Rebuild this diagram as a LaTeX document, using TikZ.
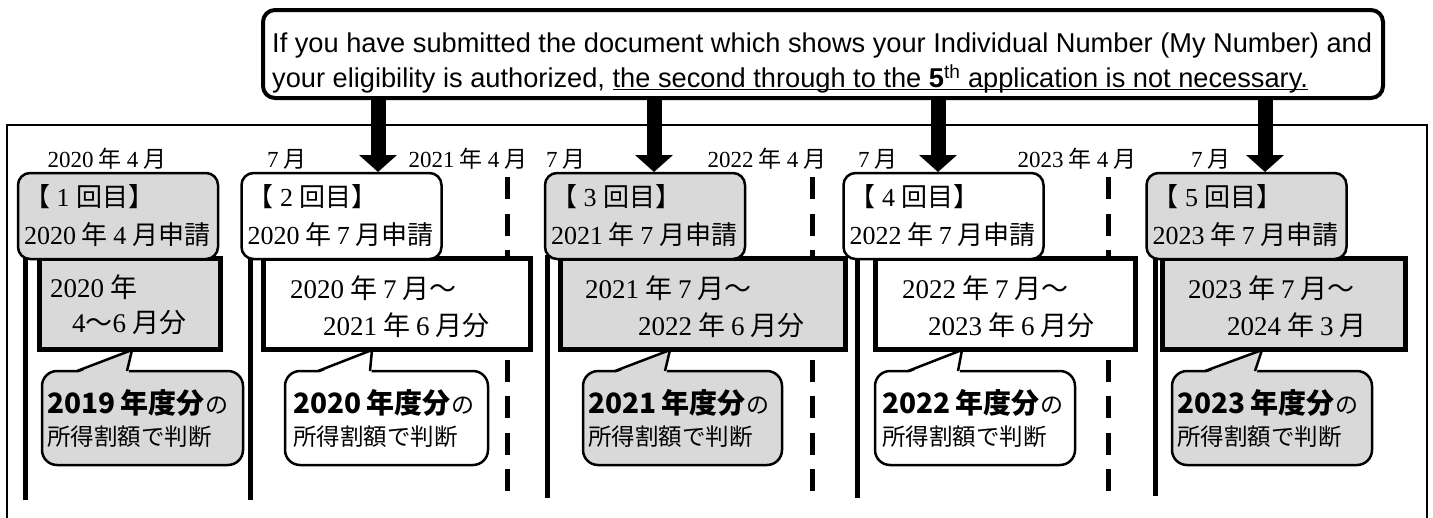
\documentclass[tikz,border=0pt]{standalone}
\usepackage{fontspec}
\setmainfont{Liberation Serif}
\newfontfamily\jp{Noto Sans CJK JP}
\newfontfamily\eng{Liberation Sans}
\usetikzlibrary{arrows.meta,calc}
\definecolor{boxgray}{HTML}{D9D9D9}
\newcommand\J[1]{{\jp #1}}
\newcommand\g{\hspace{0.22em}}
\newcommand\myul[1]{\setbox0\hbox{#1}\rlap{\rule[-2.6pt]{\wd0}{1.5pt}}\box0}
\begin{document}
\begin{tikzpicture}[x=1pt,y=-1pt,
  hbox/.style={draw, line width=2.5pt, rounded corners=12pt, minimum width=200pt, minimum height=86pt,
    text width=188pt, align=left, inner xsep=6pt, inner ysep=0pt, font=\fontsize{26}{38}\selectfont},
  rbox/.style={draw, line width=5pt, inner sep=0pt, minimum height=91pt},
  cbox/.style={draw, line width=2.5pt, rounded corners=15pt, inner sep=0pt, minimum height=94pt},
  vline/.style={line width=5pt},
  dline/.style={line width=5pt, dash pattern=on 22pt off 14.5pt},
  bigarrow/.style={line width=15pt, -{Triangle[width=37pt,length=17pt]}},
  lab/.style={inner sep=0pt, font=\fontsize{23}{26}\selectfont},
  rt/.style={anchor=west, inner sep=0pt, font=\fontsize{27}{30}\selectfont},
  ct1/.style={anchor=west, inner sep=0pt, font=\jp\bfseries\fontsize{28}{30}\selectfont},
  ct2/.style={anchor=west, inner sep=0pt, font=\jp\fontsize{23.5}{26}\selectfont},
  ptr/.style={line width=2.5pt, line join=miter}
]
\useasboundingbox (0,0) rectangle (1433,517);

% outer frame (bottom side is outside the picture)
\draw[line width=2pt] (7,540) -- (7,125) -- (1427,125) -- (1427,540);

% top note
\node[draw, line width=4pt, rounded corners=12pt, fill=white, minimum width=1120pt, minimum height=88pt] (top) at (823,54) {};
\node[anchor=west, inner sep=0pt] (toptext) at (272,63) {\resizebox{1100pt}{!}{\eng\fontsize{27}{35}\selectfont
  \begin{tabular}{@{}l@{}}
  If you have submitted the document which shows your Individual Number (My Number) and\\
  your eligibility is authorized, \myul{the second through to the \textbf{5}\textsuperscript{th} application is not necessary.}
  \end{tabular}}};

% arrows
\coordinate (a1) at (378,172);
\coordinate (a2) at (654,172);
\coordinate (a3) at (938,172);
\coordinate (a4) at (1265,172);
\foreach \a in {a1,a2,a3,a4} \draw[bigarrow] (top.south -| \a) -- (\a);

% date labels
\node[lab] (l1) at (107,159) {2020\g\J{年}\g4\g\J{月}};
\node[lab] (l2) at (287,159) {7\g\J{月}};
\node[lab] (l3) at (468,159) {2021\g\J{年}\g4\g\J{月}};
\node[lab] (l4) at (566,159) {7\g\J{月}};
\node[lab] (l5) at (767,159) {2022\g\J{年}\g4\g\J{月}};
\node[lab] (l6) at (878,159) {7\g\J{月}};
\node[lab] (l7) at (1077,159) {2023\g\J{年}\g4\g\J{月}};
\node[lab] (l8) at (1211,159) {7\g\J{月}};

% timeline lines
\draw[vline] (25,255) -- (25,500);
\draw[vline] (250,255) -- (250,500);
\draw[vline] (547,255) -- (547,498);
\draw[vline] (857,255) -- (857,498);
\draw[vline] (1155,255) -- (1155,496);
\draw[dline] (507,177) -- (507,497);
\draw[dline] (812,177) -- (812,497);
\draw[dline] (1108,177) -- (1108,497);

% period boxes
\node[rbox, fill=boxgray, minimum width=181pt] (r1) at (129.5,303.5) {};
\node[rbox, fill=white,   minimum width=267pt] (r2) at (396.5,303.5) {};
\node[rbox, fill=boxgray, minimum width=285pt] (r3) at (702.5,303.5) {};
\node[rbox, fill=white,   minimum width=260pt] (r4) at (1005,303.5) {};
\node[rbox, fill=boxgray, minimum width=243pt] (r5) at (1283.5,303.5) {};

% application boxes
\node[hbox, fill=boxgray] (b1) at (118,216) {\J{【}\makebox[1em]{1}\J{回目】}\\2020\g\J{年}\g4\g\J{月申請}};
\node[hbox, fill=white]   (b2) at (341.5,216) {\J{【}\makebox[1em]{2}\J{回目】}\\2020\g\J{年}\g7\g\J{月申請}};
\node[hbox, fill=boxgray] (b3) at (645,216) {\J{【}\makebox[1em]{3}\J{回目】}\\2021\g\J{年}\g7\g\J{月申請}};
\node[hbox, fill=white]   (b4) at (943.5,216) {\J{【}\makebox[1em]{4}\J{回目】}\\2022\g\J{年}\g7\g\J{月申請}};
\node[hbox, fill=boxgray] (b5) at (1246.5,216) {\J{【}\makebox[1em]{5}\J{回目】}\\2023\g\J{年}\g7\g\J{月申請}};

% period texts
\node[rt] (r1a) at (50,287) {2020\g\J{年}};
\node[rt] (r1b) at (72,323) {4\J{～}6\g\J{月分}};
\node[rt] (r2a) at (290,288) {2020\g\J{年}\g7\g\J{月〜}};
\node[rt] (r2b) at (323,325) {2021\g\J{年}\g6\g\J{月分}};
\node[rt] (r3a) at (585,288) {2021\g\J{年}\g7\g\J{月〜}};
\node[rt] (r3b) at (638,325) {2022\g\J{年}\g6\g\J{月分}};
\node[rt] (r4a) at (902,288) {2022\g\J{年}\g7\g\J{月〜}};
\node[rt] (r4b) at (928,325) {2023\g\J{年}\g6\g\J{月分}};
\node[rt] (r5a) at (1188,288) {2023\g\J{年}\g7\g\J{月〜}};
\node[rt] (r5b) at (1227,325) {2024\g\J{年}\g3\g\J{月}};

% callouts
\node[cbox, fill=boxgray, minimum width=201pt] (c1) at (142.5,418) {};
\node[cbox, fill=white,   minimum width=203pt] (c2) at (386.5,418) {};
\node[cbox, fill=boxgray, minimum width=199pt] (c3) at (682.5,418) {};
\node[cbox, fill=white,   minimum width=200pt] (c4) at (975,418) {};
\node[cbox, fill=boxgray, minimum width=200pt] (c5) at (1272,418) {};
\foreach \c/\bl/\br/\ax/\col in {c1/77/127/132/boxgray, c2/318/370/372/white, c3/615/665/670/boxgray, c4/908/958/962/white, c5/1205/1255/1262/boxgray}{
  \fill[\col] (\bl-2,374) -- (\ax,350) -- (\br+1.5,374) -- cycle;
  \draw[ptr] (\bl,371) -- (\ax,350) -- (\br,371);
}

% callout texts
\foreach \c/\x/\y in {c1/47/2019, c2/293/2020, c3/588/2021, c4/882/2022, c5/1177/2023}{
  \node[ct1] (\c a) at (\x,403) {\y\hspace{0.2em}年度分{\mdseries\fontsize{23}{26}\selectfont の}};
  \node[ct2] (\c b) at (\x,437) {所得割額で判断};
}
\end{tikzpicture}
\end{document}
